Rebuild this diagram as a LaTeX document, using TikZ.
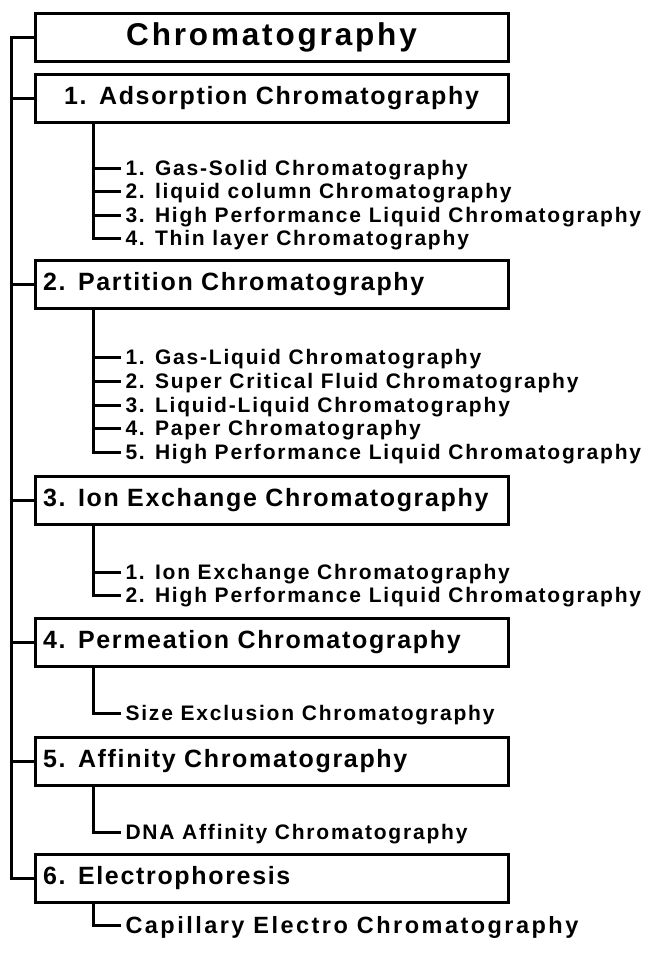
\documentclass[tikz,border=0pt]{standalone}
\usepackage{fontspec}
\setmainfont{Liberation Sans}
\begin{document}
\begin{tikzpicture}[x=1pt, y=-1pt, line width=3pt,
  catbox/.style={draw, rectangle, line width=3pt, minimum width=473pt, minimum height=48pt, inner xsep=8pt, text width=457pt, align=left,
    font=\bfseries\fontsize{25}{28}\selectfont\addfontfeature{LetterSpace=6.7}},
  item/.style={anchor=west, inner xsep=3pt, inner ysep=0pt, text height=15pt, text depth=0pt,
    font=\bfseries\fontsize{21}{24}\selectfont\addfontfeature{LetterSpace=8.6}}]
  \useasboundingbox (0,0) rectangle (647,967);
  \node[catbox, align=center, font=\bfseries\fontsize{31.5}{34}\selectfont\addfontfeature{LetterSpace=9}] (title) at (271.5, 37) {Chromatography};
  \node[catbox, align=center] (box1) at (271.5, 98) {1. Adsorption Chromatography};
  \node[catbox] (box2) at (271.5, 284) {2. Partition Chromatography};
  \node[catbox] (box3) at (271.5, 500) {3. Ion Exchange Chromatography};
  \node[catbox] (box4) at (271.5, 642) {4. Permeation Chromatography};
  \node[catbox] (box5) at (271.5, 761) {5. Affinity Chromatography};
  \node[catbox] (box6) at (271.5, 878) {6. Electrophoresis};
  % adsorption
  \node[item] (a1) at (121, 168) {1. Gas-Solid Chromatography};
  \node[item] (a2) at (121, 191) {2. liquid column Chromatography};
  \node[item] (a3) at (121, 215) {3. High Performance Liquid Chromatography};
  \node[item] (a4) at (121, 238) {4. Thin layer Chromatography};
  % partition
  \node[item] (b1) at (121, 357) {1. Gas-Liquid Chromatography};
  \node[item] (b2) at (121, 381) {2. Super Critical Fluid Chromatography};
  \node[item] (b3) at (121, 405) {3. Liquid-Liquid Chromatography};
  \node[item] (b4) at (121, 428) {4. Paper Chromatography};
  \node[item] (b5) at (121, 452) {5. High Performance Liquid Chromatography};
  % ion exchange
  \node[item] (c1) at (121, 572) {1. Ion Exchange Chromatography};
  \node[item] (c2) at (121, 595) {2. High Performance Liquid Chromatography};
  % permeation, affinity, electrophoresis
  \node[item] (d1) at (121, 713) {Size Exclusion Chromatography};
  \node[item] (e1) at (121, 832) {DNA Affinity Chromatography};
  \node[item, text height=17pt, font=\bfseries\fontsize{23.5}{26}\selectfont\addfontfeature{LetterSpace=10.5}] (f1) at (121, 925) {Capillary Electro Chromatography};
  % main trunk
  \draw (title.west) -- ++(-22,0) |- (box6.west);
  \foreach \b in {box1,box2,box3,box4,box5}
    \draw (\b.west) -- ++(-22,0);
  % sub branches
  \draw ([xshift=60pt]box1.south west) |- (a4.west);
  \draw ([xshift=60pt]box2.south west) |- (b5.west);
  \draw ([xshift=60pt]box3.south west) |- (c2.west);
  \draw ([xshift=60pt]box4.south west) |- (d1.west);
  \draw ([xshift=60pt]box5.south west) |- (e1.west);
  \draw ([xshift=60pt]box6.south west) |- (f1.west);
  \foreach \n in {a1,a2,a3,b1,b2,b3,b4,c1}
    \draw (\n.west) -- ++(-26,0);
\end{tikzpicture}
\end{document}
